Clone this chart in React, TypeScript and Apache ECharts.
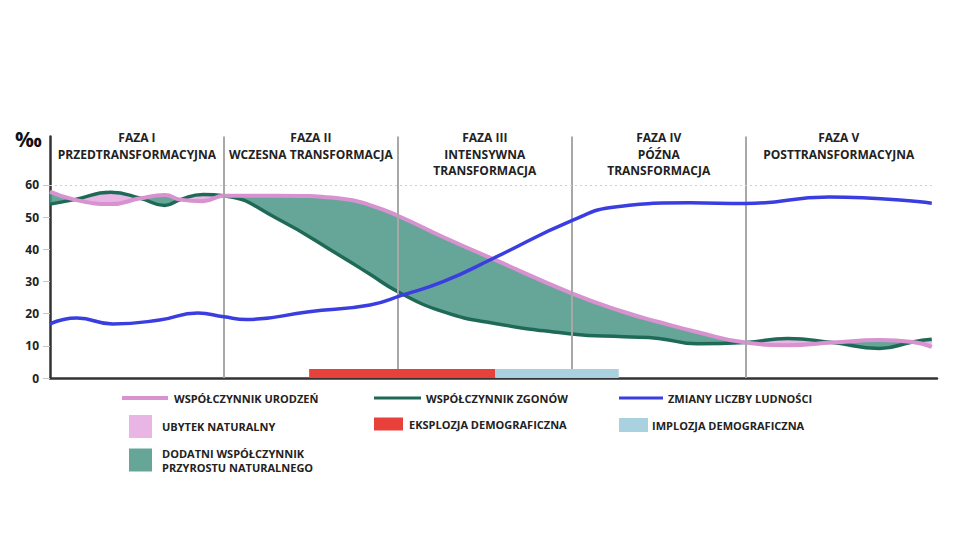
import { useEffect, useRef } from "react";
import * as echarts from "echarts";

// x is measured in phases: 0 = start of phase I, 1 = start of phase II, ...
const phaseNames = [
  "FAZA I\nPRZEDTRANSFORMACYJNA",
  "FAZA II\nWCZESNA TRANSFORMACJA",
  "FAZA III\nINTENSYWNA\nTRANSFORMACJA",
  "FAZA IV\nPÓŹNA\nTRANSFORMACJA",
  "FAZA V\nPOSTTRANSFORMACYJNA",
];
const phaseEdges = [0, 1, 2, 3, 4, 5.07];

const rateX = [0, 0.14, 0.35, 0.52, 0.66, 0.75, 0.88, 1.0, 1.3, 1.68, 1.84, 2.0, 2.26, 2.55, 3.0, 3.3, 3.5, 3.72, 4.0, 4.24, 4.5, 4.77, 4.96, 5.07];
const births = [57.9, 55.4, 54, 55.8, 56.8, 55.4, 54.9, 56.6, 56.6, 55.7, 53.7, 50.4, 43.8, 36.9, 26.3, 20.5, 17.4, 14.3, 11, 10.2, 11, 11.8, 11.2, 9.7];
const deaths = [54, 55.4, 57.7, 55.8, 53.6, 55.4, 57, 56.6, 49.7, 37.6, 32.2, 26.8, 20.6, 17, 13.7, 12.8, 12.3, 10.6, 11, 12.3, 11, 9.2, 11.2, 12];

const popX = [0, 0.155, 0.36, 0.63, 0.85, 1.0, 1.13, 1.49, 1.84, 2.03, 2.26, 2.55, 3.0, 3.26, 3.68, 4.0, 4.48, 5.07];
const population = [16.8, 18.6, 16.8, 18, 20.2, 19, 18.2, 20.6, 22.7, 25.8, 29.9, 37.2, 48.9, 53.2, 54.4, 54.2, 56.2, 54.3];

const explosion = [1.49, 2.56, 2.8];
const implosion = [2.56, 3.27, 2.8];

const yTicks = [0, 10, 20, 30, 40, 50, 60];
const Y_MAX = 75;
const X_MAX = 5.1;

const FONT = "'Open Sans', sans-serif";

const N_BIRTH = "WSPÓŁCZYNNIK URODZEŃ";
const N_DEATH = "WSPÓŁCZYNNIK ZGONÓW";
const N_POP = "ZMIANY LICZBY LUDNOŚCI";
const N_NEG = "UBYTEK NATURALNY";
const N_POS = "DODATNI WSPÓŁCZYNNIK PRZYROSTU NATURALNEGO";
const N_EXP = "EKSPLOZJA DEMOGRAFICZNA";
const N_IMP = "IMPLOZJA DEMOGRAFICZNA";

const C_BIRTH = "#d792cf";
const C_DEATH = "#1f6a57";
const C_POP = "#3a3de0";
const C_NEG = "#e9b5e4";
const C_POS = "rgba(75,150,135,0.85)";
const C_EXP = "#e8403a";
const C_IMP = "#a9d1e0";

function legendItem(name: string, left: number, top: number, w: number, h: number, gap = 0) {
  return {
    left,
    top,
    padding: 0,
    selectedMode: false,
    itemWidth: w,
    itemHeight: h,
    data: [{ name, icon: "rect" }],
    formatter: (n: string) =>
      n === N_POS ? "DODATNI WSPÓŁCZYNNIK\nPRZYROSTU NATURALNEGO" : n,
    textStyle: {
      fontFamily: FONT,
      fontWeight: "bold",
      fontSize: 11,
      color: "#222",
      lineHeight: 14,
      padding: [0, 0, 0, gap],
    },
  };
}

function barRender(params: any, api: any) {
  const a = api.coord([api.value(0), api.value(2)]);
  const b = api.coord([api.value(1), 0]);
  return {
    type: "rect",
    shape: { x: a[0], y: a[1], width: b[0] - a[0], height: b[1] - a[1] },
    style: { fill: api.visual("color") },
  };
}

export default function App() {
  const chartRef = useRef<HTMLDivElement>(null);

  useEffect(() => {
    if (!chartRef.current) return;
    document.body.style.margin = "0";
    const chart = echarts.init(chartRef.current, null, { renderer: "svg" });

    // value first, x second: ECharts stacks the first numeric column
    const yx = (xs: number[], ys: number[]) => xs.map((x, i) => [ys[i], x]);
    const xy = (xs: number[], ys: number[]) => xs.map((x, i) => [x, ys[i]]);
    const lower = births.map((b, i) => Math.min(b, deaths[i]));
    const posPart = births.map((b, i) => Math.max(b - deaths[i], 0));
    const negPart = births.map((b, i) => Math.max(deaths[i] - b, 0));

    const fill = (name: string, values: number[], color: string | null) => ({
      name,
      type: "line" as const,
      stack: "nat",
      encode: { x: 1, y: 0 },
      data: yx(rateX, values),
      smooth: true,
      showSymbol: false,
      silent: true,
      z: 2,
      ...(color
        ? {
            color,
            itemStyle: { color },
            areaStyle: { color, opacity: 1 },
          }
        : {}),
      lineStyle: { width: 0, opacity: 0 },
    });

    const option: echarts.EChartsOption = {
      animation: false,
      grid: { left: 50, right: 23, top: 378 - Y_MAX * 3.22, bottom: 162 },
      xAxis: {
        type: "value",
        min: 0,
        max: X_MAX,
        axisLine: { show: true, lineStyle: { color: "#333", width: 2.5 } },
        axisTick: { show: false },
        axisLabel: { show: false },
        splitLine: { show: false },
      },
      yAxis: {
        type: "value",
        min: 0,
        max: Y_MAX,
        interval: 10,
        axisLine: { show: true, lineStyle: { color: "#333", width: 2.5 } },
        axisTick: {
          show: true,
          length: 7,
          customValues: yTicks,
          lineStyle: { color: "#c8c8c8", width: 1 },
        },
        axisLabel: {
          customValues: yTicks,
          margin: 11,
          fontFamily: FONT,
          fontWeight: "bold",
          fontSize: 12,
          color: "#222",
          formatter: (v: number) => (v <= 60 ? String(v) : ""),
        },
        splitLine: { show: false },
      },
      legend: [
        legendItem(N_BIRTH, 122, 391, 46, 4, 1),
        legendItem(N_DEATH, 374, 391, 47, 3),
        legendItem(N_POP, 619, 391, 44, 3),
        legendItem(N_NEG, 129, 415, 23, 23, 5),
        legendItem(N_POS, 129, 446, 23, 23, 5),
        legendItem(N_EXP, 374, 417, 29, 13, 1),
        legendItem(N_IMP, 619, 418, 29, 14, -1),
      ],
      graphic: [
        {
          type: "text",
          style: {
            text: "‰",
            x: 15,
            y: 139,
            verticalAlign: "middle",
            font: `bold 21px ${FONT}`,
            fill: "#111",
          },
        },
      ],
      series: [
        {
          name: "guides",
          type: "line",
          data: [[0, null]],
          showSymbol: false,
          silent: true,
          z: 1,
          lineStyle: { opacity: 0 },
          markLine: {
            silent: true,
            symbol: "none",
            label: { show: false },
            data: [
              ...phaseEdges.slice(1, -1).map((x) => ({
                xAxis: x,
                lineStyle: { color: "#a8a8a8", width: 2, type: "solid" as const },
              })),
              [
                { coord: [0, 60], lineStyle: { color: "#cfcfcf", width: 1, type: [2, 3] } },
                { coord: [phaseEdges[phaseEdges.length - 1], 60] },
              ] as any,
            ],
          },
          markArea: {
            silent: true,
            itemStyle: { color: "transparent" },
            label: {
              show: true,
              position: "insideTop",
              distance: 0,
              offset: [0, -7],
              formatter: "{b}",
              fontFamily: FONT,
              fontWeight: "bold",
              fontSize: 12,
              lineHeight: 16.5,
              color: "#222",
              align: "center",
            },
            data: phaseNames.map((n, i) => [
              { name: n, xAxis: phaseEdges[i], yAxis: 0 },
              { xAxis: phaseEdges[i + 1], yAxis: Y_MAX },
            ]) as any,
          },
        },
        fill("base", lower, null),
        fill(N_POS, posPart, C_POS),
        fill(N_NEG, negPart, C_NEG),
        {
          name: N_DEATH,
          type: "line",
          data: xy(rateX, deaths),
          smooth: true,
          showSymbol: false,
          z: 3,
          color: C_DEATH,
          itemStyle: { color: C_DEATH },
          lineStyle: { color: C_DEATH, width: 3.5 },
        },
        {
          name: N_BIRTH,
          type: "line",
          data: xy(rateX, births),
          smooth: true,
          showSymbol: false,
          z: 4,
          color: C_BIRTH,
          itemStyle: { color: C_BIRTH },
          lineStyle: { color: C_BIRTH, width: 4 },
        },
        {
          name: N_POP,
          type: "line",
          data: xy(popX, population),
          smooth: true,
          showSymbol: false,
          z: 5,
          color: C_POP,
          itemStyle: { color: C_POP },
          lineStyle: { color: C_POP, width: 3.5 },
        },
        {
          name: N_EXP,
          type: "custom",
          renderItem: barRender as any,
          encode: { x: [0, 1], y: 2 },
          data: [explosion],
          z: 6,
          itemStyle: { color: C_EXP },
        },
        {
          name: N_IMP,
          type: "custom",
          renderItem: barRender as any,
          encode: { x: [0, 1], y: 2 },
          data: [implosion],
          z: 6,
          itemStyle: { color: C_IMP },
        },
      ],
    };

    chart.setOption(option);
    return () => {
      chart.dispose();
    };
  }, []);

  return <div ref={chartRef} style={{ width: 960, height: 540 }} />;
}
